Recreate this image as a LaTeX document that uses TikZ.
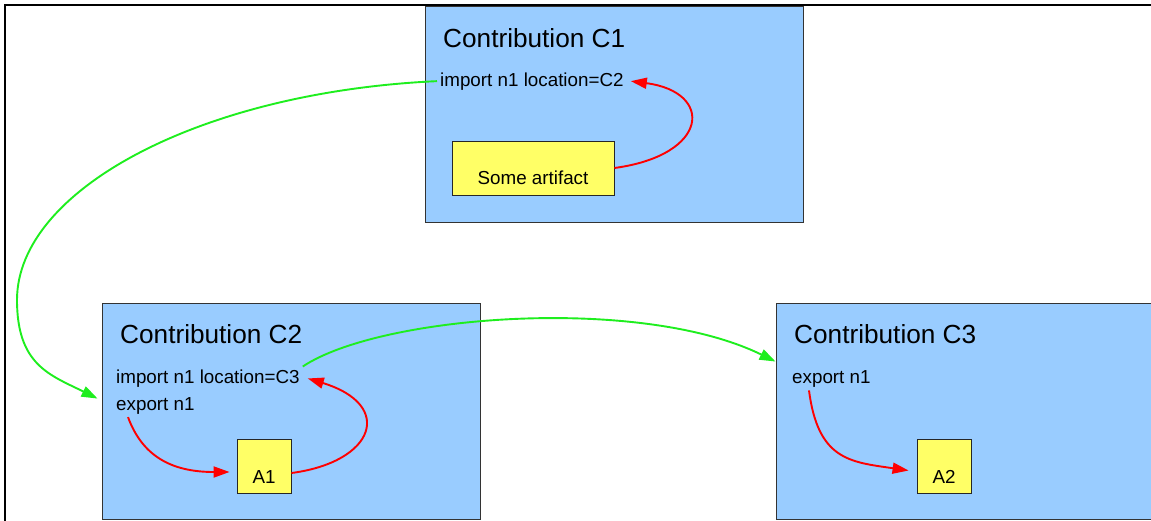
\documentclass[tikz,border=0pt]{standalone}
\usepackage{fontspec}
\setmainfont{Liberation Sans}
\usetikzlibrary{arrows.meta}
\definecolor{boxblue}{RGB}{153,204,255}
\definecolor{artyellow}{RGB}{255,255,102}
\definecolor{linkgreen}{RGB}{30,238,30}
\definecolor{linkred}{RGB}{255,0,0}
\tikzset{
  contrib/.style={draw=black!80, line width=0.9pt, fill=boxblue, rectangle, minimum width=378pt, minimum height=216pt, inner sep=0pt},
  artbox/.style={draw=black!85, line width=0.9pt, fill=artyellow, rectangle, inner sep=0pt, minimum height=54pt, font=\fontsize{18.8}{22}\selectfont},
  title/.style={anchor=base west, inner sep=3pt, font=\fontsize{26.2}{30}\selectfont},
  line/.style={anchor=base west, inner sep=3pt, font=\fontsize{18.8}{22}\selectfont},
  redlink/.style={draw=linkred, line width=1.9pt, -{Triangle[length=16pt,width=11pt]}},
  greenlink/.style={draw=linkgreen, line width=1.9pt, -{Triangle[length=16pt,width=11pt]}},
}
\begin{document}
\begin{tikzpicture}[x=1pt,y=-1pt]
\clip (0,0) rectangle (1151,520);
\fill[white] (0,0) rectangle (1151,520);
% containers
\node[contrib] (c1) at (614.5,114) {};
\node[contrib] (c2) at (291,411) {};
\node[contrib] (c3) at (965,411) {};
% frame
\draw[line width=2.2pt] (5,530) -- (5,5) -- (1160,5);
% texts
\node[title] (t1) at (440,47) {Contribution C1};
\node[line] (imp1) at (437,86) {import n1 location=C2};
\node[artbox, minimum width=162pt, text height=43pt, text depth=11pt] (art) at (533,168) {Some artifact};

\node[title] (t2) at (117,343.3) {Contribution C2};
\node[line] (imp2) at (113,383.3) {import n1 location=C3};
\node[line] (exp2) at (113,410) {export n1};
\node[artbox, minimum width=54pt, text height=44pt, text depth=10pt] (a1) at (264,466) {A1};

\node[title] (t3) at (791,343.3) {Contribution C3};
\node[line] (exp3) at (789,383.3) {export n1};
\node[artbox, minimum width=54pt, text height=44pt, text depth=10pt] (a2) at (944,466.5) {A2};

% coordinates for free ends at container edges
\coordinate (c2in) at ([xshift=-4pt,yshift=-96pt]c2.north west);
\coordinate (c3in) at ([yshift=-59pt]c3.north west);

% links
\draw[redlink] (art.east) .. controls (710,155) and (714,92) .. ([xshift=4pt]imp1.east);
\draw[greenlink] (imp1.west) .. controls (200,92) and (17,190) .. (17,300)
   .. controls (17,365) and (50,375) .. (c2in);
\draw[greenlink] (imp2.north east) .. controls (380,315) and (640,295) .. (c3in);
\draw[redlink] ([xshift=15pt]exp2.south west) .. controls (142,455) and (170,472) .. ([xshift=-7pt,yshift=-6pt]a1.west);
\draw[redlink] ([yshift=-7pt]a1.east) .. controls (375,462) and (395,405) .. ([xshift=5pt]imp2.east);
\draw[redlink] ([xshift=20pt]exp3.south west) .. controls (818,460) and (850,462) .. ([xshift=-8pt,yshift=-4pt]a2.west);
\end{tikzpicture}
\end{document}
